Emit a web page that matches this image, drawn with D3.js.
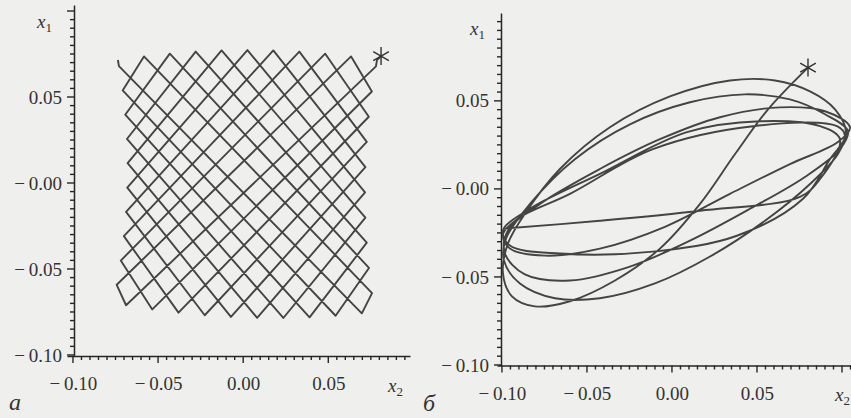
<!DOCTYPE html>
<html>
<head>
<meta charset="utf-8">
<script src="https://cdn.jsdelivr.net/npm/d3@7"></script>
<style>
  body { margin: 0; background: #efefed; }
  svg { display: block; }
  text { font-family: "Liberation Serif", "DejaVu Serif", serif; fill: #333; }
</style>
</head>
<body>
<div id="chart-area"></div>
<script>
// ---- данные ----
// панель а: точки касания траектории с краями области (x2 по горизонтали, x1 по вертикали)
var leftX2 = [0.0810, 0.0786, 0.0780, -0.0688, -0.0743, 0.0634, 0.0756, -0.0534, -0.0719, 0.0482,
  0.0738, -0.0380, -0.0701, 0.0330, 0.0726, -0.0226, -0.0688, 0.0177, 0.0718, -0.0072,
  -0.0681, 0.0025, 0.0716, 0.0082, -0.0679, -0.0127, 0.0718, 0.0236, -0.0683, -0.0279,
  0.0726, 0.0390, -0.0693, -0.0431, 0.0739, 0.0543, -0.0708, -0.0583, 0.0757, 0.0697,
  -0.0730, -0.0736];
var leftX1 = [0.0738, 0.0715, 0.0678, -0.0711, -0.0592, 0.0736, 0.0532, -0.0735, -0.0451, 0.0752,
  0.0385, -0.0754, -0.0309, 0.0764, 0.0239, -0.0769, -0.0168, 0.0771, 0.0092, -0.0779,
  -0.0027, 0.0773, -0.0054, -0.0784, 0.0115, 0.0771, -0.0201, -0.0785, 0.0256, 0.0764,
  -0.0347, -0.0781, 0.0397, 0.0752, -0.0494, -0.0772, 0.0538, 0.0736, -0.0640, -0.0758,
  0.0680, 0.0715];

// панель б: точки вдоль траектории
var rightX2 = [0.0800, 0.0565, 0.0371, 0.0165, -0.0071, -0.0335, -0.0600, -0.0806, -0.0941, -0.0994,
  -0.0965, -0.0865, -0.0659, -0.0365, -0.0012, 0.0341, 0.0606, 0.0812, 0.0959, 0.1024,
  0.0976, 0.0812, 0.0547, 0.0224, -0.0100, -0.0424, -0.0688, -0.0894, -0.0988, -0.0976,
  -0.0835, -0.0571, -0.0247, 0.0106, 0.0429, 0.0694, 0.0900, 0.1035, 0.0988, 0.0782,
  0.0459, 0.0106, -0.0247, -0.0600, -0.0865, -0.0982, -0.0965, -0.0776, -0.0424, -0.0071,
  0.0282, 0.0635, 0.0900, 0.1047, 0.0976, 0.0694, 0.0341, -0.0041, -0.0424, -0.0747,
  -0.0953, -0.0994, -0.0906, -0.0600, -0.0112, 0.0476, 0.0971, 0.1018, 0.0929, 0.0771,
  0.0382, -0.0112, -0.0659, -0.0953, -0.0994, -0.0835, -0.0424, 0.0088, 0.0518, 0.0871,
  0.0988, 0.0871, 0.0753, 0.0165, -0.0424, -0.0994];
var rightX1 = [0.0689, 0.0452, 0.0198, -0.0085, -0.0339, -0.0520, -0.0638, -0.0667, -0.0610, -0.0480,
  -0.0311, -0.0141, 0.0113, 0.0350, 0.0525, 0.0616, 0.0616, 0.0554, 0.0452, 0.0322,
  0.0198, 0.0028, -0.0181, -0.0384, -0.0537, -0.0621, -0.0621, -0.0537, -0.0407, -0.0282,
  -0.0085, 0.0169, 0.0367, 0.0492, 0.0537, 0.0508, 0.0424, 0.0328, 0.0226, 0.0068,
  -0.0113, -0.0294, -0.0441, -0.0520, -0.0486, -0.0367, -0.0237, -0.0085, 0.0113, 0.0282,
  0.0407, 0.0463, 0.0441, 0.0350, 0.0266, 0.0141, -0.0028, -0.0215, -0.0339, -0.0379,
  -0.0339, -0.0260, -0.0169, -0.0028, 0.0226, 0.0356, 0.0356, 0.0299, 0.0169, -0.0056,
  -0.0266, -0.0356, -0.0367, -0.0322, -0.0237, -0.0113, 0.0085, 0.0322, 0.0384, 0.0356,
  0.0282, 0.0056, -0.0045, -0.0124, -0.0181, -0.0226];

// начальные точки (звёздочки)
var leftStart = [0.0810, 0.0738];
var rightStart = [0.0800, 0.0689];

// деления осей
var majorTicks = [-0.10, -0.05, 0.00, 0.05];
var xTickLabels = ["\u2212\u20090.10", "\u2212\u20090.05", "0.00", "0.05"];
var yTickLabels = ["\u2212\u20090.10", "\u2212\u20090.05", "\u2212\u20090.00", "0.05"];
var panelNames = ["а", "б"];

var W = 851, H = 418;
var axisColor = "#262626";

var svg = d3.select("#chart-area")
    .append("svg")
    .attr("width", W)
    .attr("height", H);

var panels = [
  {
    x: d3.scaleLinear().domain([-0.1035, 0.098]).range([67, 410]),
    y: d3.scaleLinear().domain([-0.1006, 0.1035]).range([356, 5]),
    axisX: 74,
    xs: leftX2, ys: leftX1, start: leftStart,
    curve: d3.curveLinear,
    name: panelNames[0], nameX: 9, nameY: 410,
    x1Label: [37, 28], x2Label: [388, 392]
  },
  {
    x: d3.scaleLinear().domain([-0.1029, 0.105]).range([497, 850.5]),
    y: d3.scaleLinear().domain([-0.1003, 0.0999]).range([365.5, 13]),
    axisX: 501,
    xs: rightX2, ys: rightX1, start: rightStart,
    curve: d3.curveCatmullRom.alpha(0.5),
    name: panelNames[1], nameX: 423, nameY: 411,
    x1Label: [470, 35], x2Label: [835, 401]
  }
];

panels.forEach(function(p) {
  var g = svg.append("g");
  var yBase = p.y.range()[0];

  // мелкие деления через 0.005
  var minorX = d3.range(-0.10, p.x.domain()[1] + 1e-9, 0.005);
  var minorY = d3.range(-0.10, p.y.domain()[1] + 1e-9, 0.005);
  var isMajor = function(v) { return Math.abs(Math.round(v / 0.05) * 0.05 - v) < 1e-6; };

  // ось x2: линия и подписи
  g.append("g")
      .attr("class", "axis")
      .attr("transform", "translate(0," + yBase + ")")
      .call(d3.axisBottom(p.x).tickValues(majorTicks).tickSize(0).tickPadding(21)
        .tickFormat(function(d, i) { return xTickLabels[i]; }));

  // ось x1: линия и подписи
  g.append("g")
      .attr("class", "axis")
      .attr("transform", "translate(" + p.axisX + ",0)")
      .call(d3.axisLeft(p.y).tickValues(majorTicks).tickSize(0).tickPadding(12)
        .tickFormat(function(d, i) { return yTickLabels[i]; }));

  // штрихи на оси x2 (вниз)
  g.append("g").selectAll("line")
      .data(minorX)
      .enter().append("line")
      .attr("x1", function(d) { return p.x(d); })
      .attr("x2", function(d) { return p.x(d); })
      .attr("y1", yBase)
      .attr("y2", function(d) { return yBase + (isMajor(d) ? 7 : 4); })
      .attr("stroke", axisColor)
      .attr("stroke-width", 1.4);

  // штрихи на оси x1 (влево)
  g.append("g").selectAll("line")
      .data(minorY)
      .enter().append("line")
      .attr("y1", function(d) { return p.y(d); })
      .attr("y2", function(d) { return p.y(d); })
      .attr("x1", p.axisX)
      .attr("x2", function(d) { return p.axisX - (isMajor(d) ? 7 : 4); })
      .attr("stroke", axisColor)
      .attr("stroke-width", 1.4);

  // траектория
  var pts = p.xs.map(function(v, i) { return [v, p.ys[i]]; });
  var line = d3.line()
      .x(function(d) { return p.x(d[0]); })
      .y(function(d) { return p.y(d[1]); })
      .curve(p.curve);
  g.append("path")
      .datum(pts)
      .attr("d", line)
      .attr("fill", "none")
      .attr("stroke", "#444")
      .attr("stroke-width", 1.9)
      .attr("stroke-linejoin", "round");

  // звёздочка в начальной точке
  g.append("path")
      .attr("d", d3.symbol().type(d3.symbolAsterisk).size(230))
      .attr("transform", "translate(" + p.x(p.start[0]) + "," + p.y(p.start[1]) + ")")
      .attr("fill", "none")
      .attr("stroke", "#333")
      .attr("stroke-width", 1.4);

  // подписи осей
  var t1 = g.append("text")
      .attr("x", p.x1Label[0]).attr("y", p.x1Label[1])
      .style("font-size", "19px").style("font-style", "italic");
  t1.append("tspan").text("x");
  t1.append("tspan").attr("dy", 4).style("font-size", "13px").style("font-style", "normal").text("1");

  var t2 = g.append("text")
      .attr("x", p.x2Label[0]).attr("y", p.x2Label[1])
      .style("font-size", "19px").style("font-style", "italic");
  t2.append("tspan").text("x");
  t2.append("tspan").attr("dy", 4).style("font-size", "13px").style("font-style", "normal").text("2");

  // буква панели
  g.append("text")
      .attr("x", p.nameX).attr("y", p.nameY)
      .style("font-size", "24px").style("font-style", "italic")
      .text(p.name);
});

// оформление осей
svg.selectAll(".axis path")
    .attr("stroke", axisColor)
    .attr("stroke-width", 1.5);
svg.selectAll(".axis text")
    .style("font-family", "'Liberation Serif', serif")
    .style("font-size", "19px")
    .attr("fill", "#333");
</script>
</body>
</html>
